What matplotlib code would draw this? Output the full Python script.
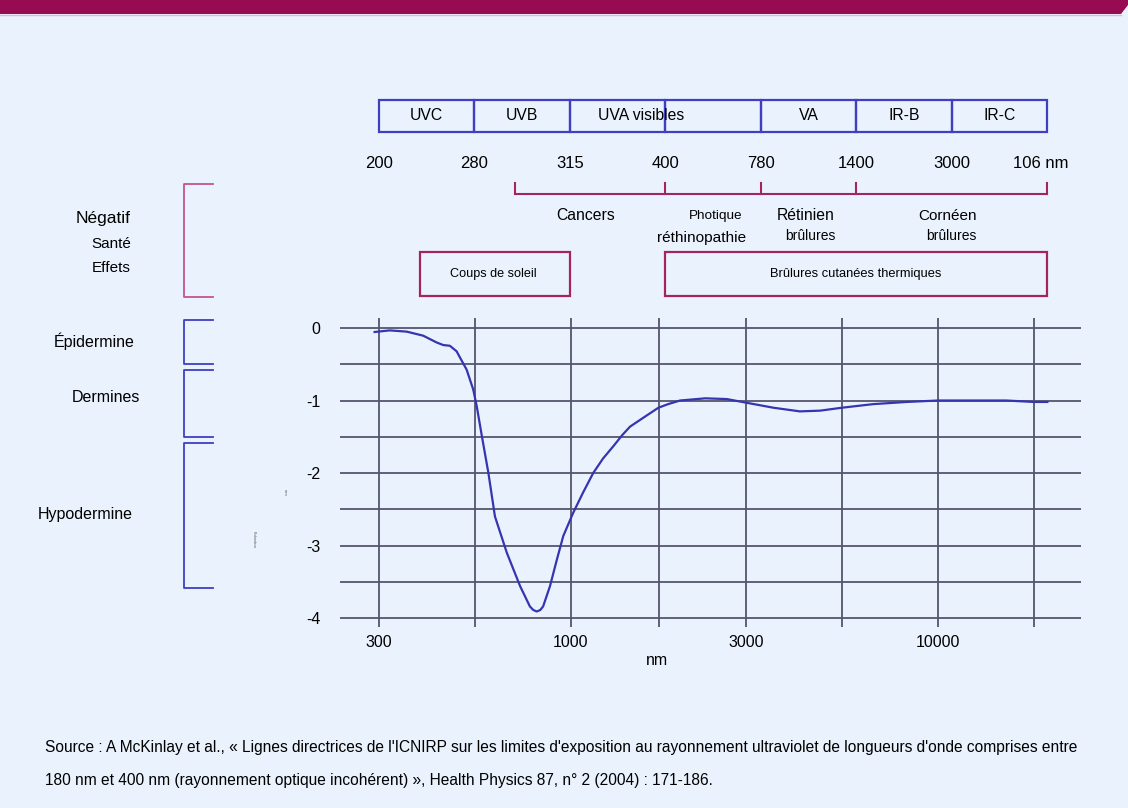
import matplotlib
matplotlib.use("Agg")
import matplotlib.pyplot as plt
from matplotlib.patches import Rectangle, Polygon

plt.rcParams['font.family'] = ['Liberation Sans', 'DejaVu Sans']

# -----------------------------
# Data
# -----------------------------

# spectral bands (evenly spaced boxes)
band_labels = ['UVC', 'UVB', '', '', 'VA', 'IR-B', 'IR-C']
band_edges = ['200', '280', '315', '400', '780', '1400', '3000', '106 nm']

# health effects bracket (band index positions)
effect_ticks = [1.43, 3, 4, 5, 7]

# penetration curve (wavelength nm, depth)
wavelength = [292, 321, 357, 396, 431, 449, 468, 488, 520, 542, 554, 572,
              596, 621, 669, 727, 773, 790, 807, 825, 840, 877, 915, 953,
              1014, 1079, 1150, 1223, 1305, 1378, 1449, 1572, 1730, 1839,
              1983, 2322, 2658, 3000, 3565, 4202, 4771, 5460, 6653, 8210,
              10000, 15330, 18230, 19840]
depth = [-0.055, -0.033, -0.05, -0.106, -0.2, -0.235, -0.245, -0.32, -0.575,
         -0.85, -1.08, -1.49, -2.0, -2.6, -3.1, -3.56, -3.84, -3.89, -3.91,
         -3.89, -3.84, -3.56, -3.2, -2.87, -2.55, -2.27, -2.0, -1.8, -1.63,
         -1.48, -1.36, -1.24, -1.10, -1.05, -1.0, -0.97, -0.98, -1.03, -1.10,
         -1.15, -1.14, -1.10, -1.05, -1.02, -1.0, -1.0, -1.02, -1.02]

x_ticks = [300, 1000, 3000, 10000]
x_minor = [548, 1732, 5477, 18257]
y_ticks = [0, -1, -2, -3, -4]
y_minor = [-0.5, -1.5, -2.5, -3.5]

source = ("Source : A McKinlay et al., « Lignes directrices de l'ICNIRP sur les limites "
          "d'exposition au rayonnement ultraviolet de longueurs d'onde comprises entre\n"
          "180 nm et 400 nm (rayonnement optique incohérent) », Health Physics 87, n° 2 "
          "(2004) : 171-186.")

# -----------------------------
# Colours
# -----------------------------
bg = '#eaf3fd'
magenta = '#960b52'
effect_col = '#a3245f'
bracket_pink = '#c4558c'
blue = '#3f3fc0'
curve_col = '#3535b0'
grid_col = '#55556f'

W, H = 1128, 808
fig = plt.figure(figsize=(W / 100, H / 100), dpi=100, facecolor=bg)

# overlay in pixel coordinates
ov = fig.add_axes([0, 0, 1, 1])
ov.set_xlim(0, W)
ov.set_ylim(H, 0)
ov.axis('off')

ov.add_patch(Polygon([(0, 0), (W, 0), (W, 5), (1121, 14), (0, 14)],
                     closed=True, color=magenta, lw=0))
ov.plot([0, 1121], [14.8, 14.8], color='#e9b3d2', lw=1)

# left brackets
def bracket(y0, y1, color):
    ov.plot([213, 184, 184, 213], [y0, y0, y1, y1], color=color, lw=1.3)

bracket(184, 297, bracket_pink)
bracket(320, 364, blue)
bracket(370, 437, blue)
bracket(443, 588, blue)

ov.text(131, 219, 'Négatif', ha='right', va='center', fontsize=12.5)
ov.text(131, 244, 'Santé', ha='right', va='center', fontsize=11)
ov.text(131, 268, 'Effets', ha='right', va='center', fontsize=11)
ov.text(94, 341, 'Épidermine', ha='center', va='center', fontsize=11.5)
ov.text(106, 398, 'Dermines', ha='center', va='center', fontsize=11.5)
ov.text(85, 515, 'Hypodermine', ha='center', va='center', fontsize=11.5)
ov.text(285, 492, 'mm', ha='center', va='center', fontsize=3, rotation=270, color='#555555')
ov.text(254, 540, 'Profondeur', ha='center', va='center', fontsize=2.5, rotation=270, color='#555555')

ov.text(45, 764, source, ha='left', va='center', fontsize=11.2, linespacing=2.5)

# -----------------------------
# Band diagram
# -----------------------------
bx = fig.add_axes([379 / W, (H - 300) / H, 668 / W, 210 / H])
bx.set_xlim(0, 7)
bx.set_ylim(300, 90)
bx.axis('off')

for i, lab in enumerate(band_labels):
    bx.add_patch(Rectangle((i, 100), 1, 32, fill=False, edgecolor=blue,
                           lw=1.6, clip_on=False))
    if lab:
        bx.text(i + 0.5, 116, lab, ha='center', va='center', fontsize=11.3)
bx.text(2.75, 116, 'UVA visibles', ha='center', va='center', fontsize=11.3)

for i, lab in enumerate(band_edges):
    off = -0.07 if i == len(band_edges) - 1 else 0
    bx.text(i + off, 163, lab, ha='center', va='center', fontsize=12)

bx.plot([effect_ticks[0], effect_ticks[-1]], [194, 194], color=effect_col, lw=1.5, clip_on=False)
for t in effect_ticks:
    bx.plot([t, t], [183, 194], color=effect_col, lw=1.5, clip_on=False)

bx.text(2.16, 216, 'Cancers', ha='center', va='center', fontsize=11.3)
bx.text(3.53, 216, 'Photique', ha='center', va='center', fontsize=9.7)
bx.text(3.38, 238, 'réthinopathie', ha='center', va='center', fontsize=11.1)
bx.text(4.47, 216, 'Rétinien', ha='center', va='center', fontsize=11.3)
bx.text(4.52, 236, 'brûlures', ha='center', va='center', fontsize=10)
bx.text(5.96, 216, 'Cornéen', ha='center', va='center', fontsize=11)
bx.text(6.0, 236, 'brûlures', ha='center', va='center', fontsize=10)

bx.add_patch(Rectangle((0.43, 252), 1.57, 44, fill=False, edgecolor=effect_col,
                       lw=1.6, clip_on=False))
bx.text(1.2, 274, 'Coups de soleil', ha='center', va='center', fontsize=9.1)
bx.add_patch(Rectangle((3, 252), 4, 44, fill=False, edgecolor=effect_col,
                       lw=1.6, clip_on=False))
bx.text(5, 274, 'Brûlures cutanées thermiques', ha='center', va='center', fontsize=9.3)

# -----------------------------
# Penetration curve
# -----------------------------
ax = fig.add_axes([340 / W, (H - 627) / H, 741 / W, 309 / H])
ax.set_facecolor('none')
ax.set_xscale('log')
ax.set_xlim(235, 24500)
ax.set_ylim(-4.124, 0.138)

ax.plot(wavelength, depth, color=curve_col, lw=1.6, zorder=3)

ax.set_xticks(x_ticks)
ax.set_xticklabels([str(v) for v in x_ticks])
ax.set_xticks(x_minor, minor=True)
ax.set_yticks(y_ticks)
ax.set_yticklabels([str(v) for v in y_ticks])
ax.set_yticks(y_minor, minor=True)
ax.grid(which='both', color=grid_col, lw=1.3)
ax.tick_params(which='both', length=0, labelsize=11.5)
ax.tick_params(axis='y', pad=14)
ax.tick_params(axis='x', pad=6)
for s in ax.spines.values():
    s.set_visible(False)

ax.set_xlabel('nm', fontsize=11.5)
ax.xaxis.set_label_coords((657 - 340) / 741, -0.085)

fig.savefig('out.png', dpi=100, facecolor=bg)
